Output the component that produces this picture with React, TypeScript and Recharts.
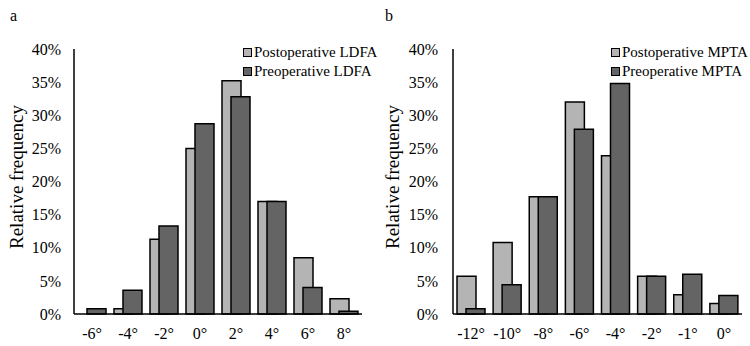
import React from 'react';
import { BarChart, Bar, XAxis, YAxis, Legend, Label } from 'recharts';

// panel a: LDFA deviation
const ldfaAngles = ['-6°', '-4°', '-2°', '0°', '2°', '4°', '6°', '8°'];
const postLdfa = [0, 0.8, 11.3, 25.0, 35.2, 17.0, 8.5, 2.3];
const preLdfa = [0.8, 3.6, 13.3, 28.7, 32.8, 17.0, 4.0, 0.4];

// panel b: MPTA deviation
const mptaAngles = ['-12°', '-10°', '-8°', '-6°', '-4°', '-2°', '-1°', '0°'];
const postMpta = [5.7, 10.8, 17.7, 32.0, 23.9, 5.7, 2.9, 1.6];
const preMpta = [0.8, 4.4, 17.7, 27.9, 34.8, 5.7, 6.0, 2.8];

const yTicks = [0, 5, 10, 15, 20, 25, 30, 35, 40];

const LIGHT = '#b4b4b4';
const DARK = '#646464';
const FONT = "'Liberation Serif', 'Times New Roman', serif";

interface PanelProps {
  letter: string;
  angles: string[];
  post: number[];
  pre: number[];
  postName: string;
  preName: string;
  axisX: number;
  labelGap: number;
  rightPad: number;
  titleX: number;
  legendLeft: number;
}

const LegendBox = ({ items }: { items: { name: string; color: string }[] }) => (
  <div style={{ fontSize: 15, lineHeight: '19px', fontFamily: FONT, color: '#000' }}>
    {items.map(it => (
      <div key={it.name} style={{ display: 'flex', alignItems: 'center', whiteSpace: 'nowrap' }}>
        <span style={{ display: 'inline-block', width: 7, height: 7, border: '1px solid #000', background: it.color, marginRight: 2 }} />
        {it.name}
      </div>
    ))}
  </div>
);

const Panel: React.FC<PanelProps> = ({ letter, angles, post, pre, postName, preName, axisX, labelGap, rightPad, titleX, legendLeft }) => {
  const data = angles.map((a, i) => ({ angle: a, post: post[i], pre: pre[i] }));
  return (
    <div style={{ position: 'relative', width: 375, height: 346, fontFamily: FONT }}>
      <div style={{ position: 'absolute', left: 10, top: 7, fontSize: 16, lineHeight: '18px' }}>{letter}</div>
      <BarChart
        width={375}
        height={346}
        data={data}
        margin={{ top: 49, right: rightPad, left: 0, bottom: 0 }}
        barSize={19}
        barGap={-10}
      >
        <XAxis
          dataKey="angle"
          height={32}
          tickLine={false}
          tickSize={0}
          tickMargin={14}
          axisLine={{ stroke: '#000', strokeWidth: 1.5 }}
          tick={{ fill: '#000', fontSize: 16, fontFamily: FONT }}
          interval={0}
        />
        <YAxis
          width={axisX}
          domain={[0, 40]}
          ticks={yTicks}
          tickFormatter={v => `${v}%`}
          tickLine={false}
          tickSize={0}
          tickMargin={labelGap}
          axisLine={{ stroke: '#000', strokeWidth: 1.5 }}
          tick={{ fill: '#000', fontSize: 16, fontFamily: FONT }}
        >
          <Label
            content={() => (
              <text
                x={titleX}
                y={177}
                transform={`rotate(-90 ${titleX} 177)`}
                textAnchor="middle"
                fontSize={19}
                fill="#000"
                fontFamily={FONT}
              >
                Relative frequency
              </text>
            )}
          />
        </YAxis>
        <Legend
          layout="vertical"
          align="center"
          verticalAlign="middle"
          wrapperStyle={{ top: 43, left: legendLeft, width: 'auto', height: 'auto' }}
          content={() => <LegendBox items={[{ name: postName, color: LIGHT }, { name: preName, color: DARK }]} />}
        />
        <Bar dataKey="post" name={postName} fill={LIGHT} stroke="#000" strokeWidth={1.5} isAnimationActive={false} />
        <Bar dataKey="pre" name={preName} fill={DARK} stroke="#000" strokeWidth={1.5} isAnimationActive={false} />
      </BarChart>
    </div>
  );
};

export default function App() {
  return (
    <div style={{ position: 'absolute', left: 0, top: 0, width: 750, height: 346, background: '#fff', display: 'flex', fontFamily: FONT }}>
      <Panel
        letter="a"
        angles={ldfaAngles}
        post={postLdfa}
        pre={preLdfa}
        postName="Postoperative LDFA"
        preName="Preoperative LDFA"
        axisX={74}
        labelGap={13}
        rightPad={13}
        titleX={23}
        legendLeft={243}
      />
      <Panel
        letter="b"
        angles={mptaAngles}
        post={postMpta}
        pre={preMpta}
        postName="Postoperative MPTA"
        preName="Preoperative MPTA"
        axisX={78}
        labelGap={15}
        rightPad={8}
        titleX={24}
        legendLeft={236}
      />
    </div>
  );
}
